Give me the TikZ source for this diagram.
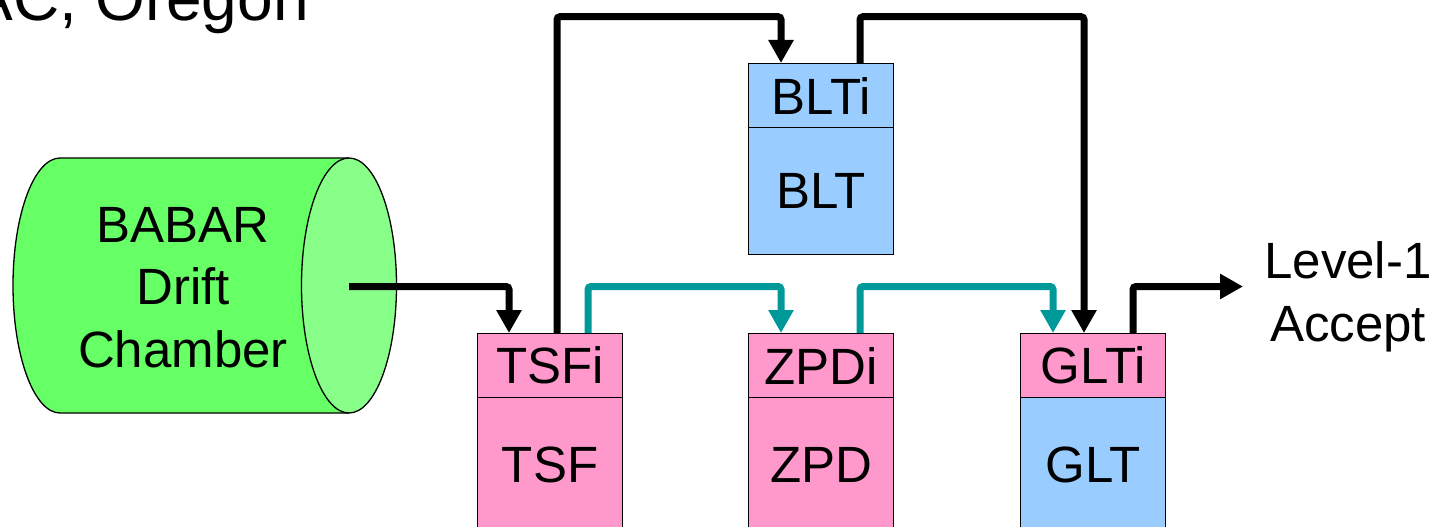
\documentclass[tikz,border=0pt]{standalone}
\usepackage{fontspec}
\setmainfont{Liberation Sans}
\usetikzlibrary{arrows.meta}
\definecolor{dcgreen}{HTML}{66FF66}
\definecolor{dcface}{HTML}{88FF88}
\definecolor{pinkbox}{HTML}{FF99CC}
\definecolor{bluebox}{HTML}{99CCFF}
\definecolor{tealline}{HTML}{009999}
\begin{document}
\begin{tikzpicture}[x=1pt,y=-1pt,
  lbl/.style={font=\fontsize{51}{62.5}\selectfont},
  ibox/.style={draw=black, line width=1.3pt, minimum width=145pt, minimum height=64pt,
               inner sep=0pt, anchor=north west, lbl},
  mbox/.style={ibox, minimum height=135pt},
  conn/.style={line width=7pt, rounded corners=3pt, -{Triangle[length=23pt,width=24pt]}},
  blk/.style={conn, draw=black},
  teal/.style={conn, draw=tealline}]
\useasboundingbox (0,0) rectangle (1433,527);
\clip (0,0) rectangle (1433,527);

% title (partly cut off)
\node[anchor=base east, font=\fontsize{64}{70}\selectfont, inner sep=0pt] (title) at (309,21) {AC, Oregon};

% drift chamber cylinder
\filldraw[fill=dcgreen, draw=black, line width=1.3pt]
  (349,158) -- (60,158) arc[start angle=270, end angle=90, x radius=47, y radius=127.5] -- (349,413);
\filldraw[fill=dcface, draw=black, line width=1.3pt] (349,285.5) ellipse [x radius=47.5, y radius=127.5];
\node[lbl, align=center, inner sep=0pt] (dc) at (183,287.5) {BABAR\\Drift\\Chamber};
\coordinate (dcout) at (349,286.5);

% boxes
\node[ibox, fill=pinkbox] (tsfi) at (477,333) {TSFi};
\node[mbox, fill=pinkbox] (tsf) at (477,397) {TSF};
\node[ibox, fill=pinkbox] (zpdi) at (748,333) {ZPDi};
\node[mbox, fill=pinkbox] (zpd) at (748,397) {ZPD};
\node[ibox, fill=bluebox] (blti) at (748,63) {BLTi};
\node[ibox, fill=bluebox, minimum height=127pt] (blt) at (748,127) {BLT};
\node[ibox, fill=pinkbox] (glti) at (1020,333) {GLTi};
\node[mbox, fill=bluebox] (glt) at (1020,397) {GLT};

\node[lbl, align=center, inner sep=0pt] (accept) at (1348,297) {Level-1\\Accept};

% ports and levels
\coordinate (hi) at (0,16.7);
\coordinate (mid) at (0,286.5);
\coordinate (tsfIn) at ([xshift=32pt]tsfi.north west);
\coordinate (tsfOutB) at ([xshift=80pt]tsfi.north west);
\coordinate (tsfOutT) at ([xshift=111pt]tsfi.north west);
\coordinate (bltIn) at ([xshift=33pt]blti.north west);
\coordinate (bltOut) at ([xshift=112pt]blti.north west);
\coordinate (zpdIn) at ([xshift=33pt]zpdi.north west);
\coordinate (zpdOut) at ([xshift=112pt]zpdi.north west);
\coordinate (gltInT) at ([xshift=33pt]glti.north west);
\coordinate (gltInB) at ([xshift=64pt]glti.north west);
\coordinate (gltOut) at ([xshift=113pt]glti.north west);
\coordinate (acc) at (1243,286.5);

% connectors
\draw[blk] (dcout) -| (tsfIn);
\draw[blk] (tsfOutB) -- (tsfOutB |- hi) -| (bltIn);
\draw[blk] (bltOut) -- (bltOut |- hi) -| (gltInB);
\draw[teal] (tsfOutT) -- (tsfOutT |- mid) -| (zpdIn);
\draw[teal] (zpdOut) -- (zpdOut |- mid) -| (gltInT);
\draw[blk] (gltOut) -- (gltOut |- mid) -- (acc);
\end{tikzpicture}
\end{document}
